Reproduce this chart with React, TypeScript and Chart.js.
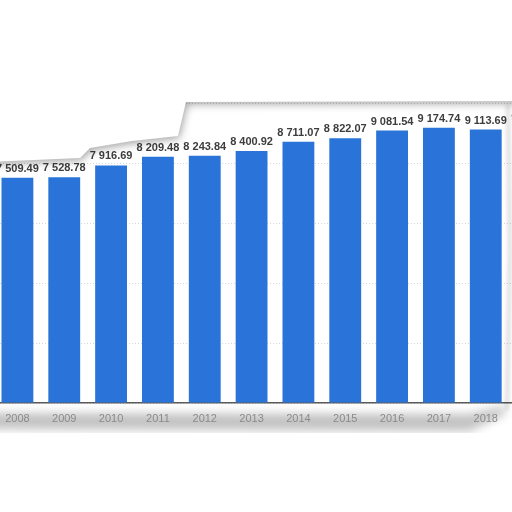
import { useEffect, useRef } from "react";
import { Chart, registerables, Plugin } from "chart.js";

Chart.register(...registerables);

const years = ["2008", "2009", "2010", "2011", "2012", "2013", "2014", "2015", "2016", "2017", "2018", "2019"];
const values = [7509.49, 7528.78, 7916.69, 8209.48, 8243.84, 8400.92, 8711.07, 8822.07, 9081.54, 9174.74, 9113.69, 9210.0];
const yTicks = [0, 2000, 4000, 6000, 8000, 10000];

// canvas is shifted a bit left so the first bar is cut, like in the picture
const OFFSET_X = 6;

const fmt = (v: number) => {
  const [int, dec] = v.toFixed(2).split(".");
  return int.replace(/\B(?=(\d{3})+(?!\d))/g, " ") + "." + dec;
};

const valueLabels: Plugin<"bar"> = {
  id: "valueLabels",
  afterDatasetsDraw(chart) {
    const ctx = chart.ctx;
    const meta = chart.getDatasetMeta(0);
    ctx.save();
    ctx.font = "bold 11px 'Liberation Sans', Arial, sans-serif";
    ctx.fillStyle = "#3d3d3d";
    ctx.textAlign = "center";
    ctx.textBaseline = "alphabetic";
    meta.data.forEach((bar, i) => {
      ctx.fillText(fmt(values[i]), bar.x, bar.y - 6);
    });
    ctx.restore();
  },
};

// torn paper look of the screenshot
const paperEdges: Plugin<"bar"> = {
  id: "paperEdges",
  beforeDraw(chart) {
    const ctx = chart.ctx;
    const o = OFFSET_X;
    ctx.save();
    ctx.filter = "blur(5px)";
    ctx.fillStyle = "rgba(0,0,0,0.24)";
    ctx.beginPath();
    ctx.moveTo(-10 + o, 413);
    ctx.lineTo(470 + o, 414);
    ctx.lineTo(505 + o, 406);
    ctx.lineTo(505 + o, 414);
    ctx.lineTo(470 + o, 431);
    ctx.lineTo(-10 + o, 429);
    ctx.closePath();
    ctx.fill();
    ctx.restore();
  },
  afterDraw(chart) {
    const ctx = chart.ctx;
    const o = OFFSET_X;
    // right torn edge
    ctx.save();
    ctx.filter = "blur(2px)";
    ctx.strokeStyle = "rgba(0,0,0,0.18)";
    ctx.lineWidth = 3;
    ctx.beginPath();
    ctx.moveTo(508 + o, 104);
    ctx.lineTo(510 + o, 250);
    ctx.lineTo(507 + o, 410);
    ctx.stroke();
    ctx.restore();

    // top torn edge
    ctx.save();
    ctx.fillStyle = "#ffffff";
    ctx.shadowColor = "rgba(0,0,0,0.38)";
    ctx.shadowBlur = 8;
    ctx.shadowOffsetX = 1;
    ctx.shadowOffsetY = 2;
    ctx.beginPath();
    ctx.moveTo(-10 + o, -10);
    ctx.lineTo(-10 + o, 162);
    ctx.lineTo(80 + o, 158);
    ctx.lineTo(90 + o, 148);
    ctx.lineTo(132 + o, 141);
    ctx.lineTo(178 + o, 136);
    ctx.lineTo(186 + o, 102);
    ctx.lineTo(600, 101);
    ctx.lineTo(600, -10);
    ctx.closePath();
    ctx.fill();
    ctx.restore();
  },
};

const App = () => {
  const canvasRef = useRef<HTMLCanvasElement | null>(null);

  useEffect(() => {
    document.body.style.overflow = "hidden";
    const ctx = canvasRef.current?.getContext("2d");
    if (!ctx) return;

    const chart = new Chart(ctx, {
      type: "bar",
      data: {
        labels: years,
        datasets: [
          {
            data: values,
            backgroundColor: "#2a74d9",
            barPercentage: 0.68,
            categoryPercentage: 1,
          },
        ],
      },
      options: {
        animation: false,
        responsive: true,
        maintainAspectRatio: false,
        layout: { padding: { top: 103, left: 0, right: 0, bottom: 0 } },
        plugins: {
          legend: { display: false },
          tooltip: { enabled: false },
        },
        scales: {
          x: {
            grid: { display: false, drawTicks: false },
            border: { display: true, color: "#5a5a5a", width: 1.5 },
            ticks: {
              color: "#8a8a8a",
              font: { family: "'Liberation Sans', Arial, sans-serif", size: 11 },
              padding: 9,
              maxRotation: 0,
            },
            afterFit: (scale) => {
              scale.height = 30;
            },
          },
          y: {
            min: yTicks[0],
            max: yTicks[yTicks.length - 1],
            afterBuildTicks: (scale) => {
              scale.ticks = yTicks.map((v) => ({ value: v }));
            },
            grid: { color: "#d6d6d6", drawTicks: false },
            border: { display: false, dash: [1, 2] },
            ticks: { display: false },
            afterFit: (scale) => {
              scale.width = 0;
            },
          },
        },
      },
      plugins: [paperEdges, valueLabels],
    });

    return () => {
      chart.destroy();
    };
  }, []);

  return (
    <div
      style={{
        position: "fixed",
        left: -OFFSET_X,
        top: 0,
        width: 562,
        height: 433,
        background: "#ffffff",
      }}
    >
      <canvas ref={canvasRef}></canvas>
    </div>
  );
};

export default App;
